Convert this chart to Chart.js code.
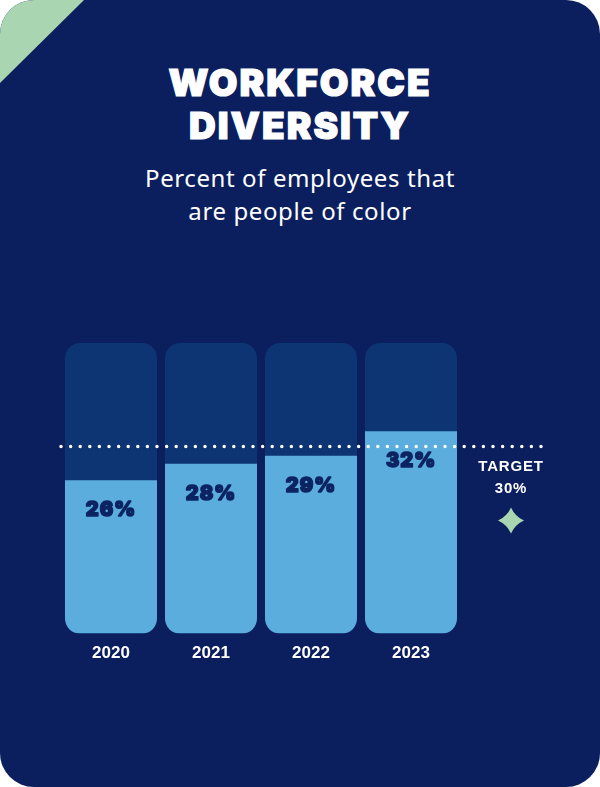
<!DOCTYPE html>
<html>
<head>
<meta charset="utf-8">
<script src="https://cdn.jsdelivr.net/npm/chart.js@4.4.1/dist/chart.umd.min.js"></script>
<style>
  html, body { margin: 0; padding: 0; background: #ffffff; }
  .card {
    position: relative; width: 600px; height: 787px; overflow: hidden;
    background: #0b1f5e; border-radius: 34px;
  }
  .corner {
    position: absolute; left: 0; top: 0; width: 84px; height: 83px;
    background: #a9d6b1; clip-path: polygon(0 0, 100% 0, 0 100%);
  }
  .title {
    position: absolute; left: 0; width: 600px; top: 61px; text-align: center;
    color: #ffffff; font-family: Inter, sans-serif; font-weight: 900;
    font-size: 37px; line-height: 43px; letter-spacing: 2px;
    -webkit-text-stroke: 1.2px #ffffff;
  }
  .subtitle {
    position: absolute; left: 0; width: 600px; top: 161px; text-align: center;
    color: #ffffff; font-family: "Noto Sans", sans-serif; font-size: 24px;
    line-height: 33px; letter-spacing: 0.6px;
  }
  canvas { position: absolute; left: 0; top: 0; }
</style>
</head>
<body>
<div class="card">
  <div class="corner"></div>
  <div class="title">WORKFORCE<br>DIVERSITY</div>
  <div class="subtitle">Percent of employees that<br>are people of color</div>
  <canvas id="diversity" width="600" height="787"></canvas>
</div>
<script>
var years = ['2020', '2021', '2022', '2023'];
var shares = [26, 28, 29, 32];
var target = 30;
var yMin = 7.2;
var yMax = 42.8;

var labels = years.concat(['']);
var track = years.map(function () { return yMax; });

var extras = {
  id: 'extras',
  afterDatasetsDraw: function (chart) {
    var c = chart.ctx;
    var area = chart.chartArea;
    var y = chart.scales.y;
    var x = chart.scales.x;
    var bars = chart.getDatasetMeta(1).data;

    // value labels inside bars
    c.save();
    c.fillStyle = '#0d2462';
    c.strokeStyle = '#0d2462';
    c.lineWidth = 1.5;
    c.lineJoin = 'round';
    c.font = '900 20px Inter';
    c.letterSpacing = '1px';
    c.textAlign = 'center';
    c.textBaseline = 'middle';
    bars.forEach(function (bar, i) {
      c.fillText(shares[i] + '%', bar.x, bar.y + 30);
      c.strokeText(shares[i] + '%', bar.x, bar.y + 30);
    });

    // dotted target line
    var ty = y.getPixelForValue(target) - 1;
    c.strokeStyle = '#ffffff';
    c.lineWidth = 3.5;
    c.lineCap = 'round';
    c.setLineDash([0, 9.6]);
    c.beginPath();
    c.moveTo(area.left, ty);
    c.lineTo(area.right - 18, ty);
    c.stroke();
    c.setLineDash([]);

    // target label
    var tx = x.getPixelForValue(4);
    c.fillStyle = '#ffffff';
    c.font = 'bold 15px "Liberation Sans"';
    c.letterSpacing = '0.8px';
    c.fillText('TARGET', tx, ty + 20);
    c.fillText(target + '%', tx, ty + 42);

    // sparkle
    var sy = ty + 74, r = 13, k = 4;
    c.fillStyle = '#a9d6b1';
    c.beginPath();
    c.moveTo(tx, sy - r);
    c.quadraticCurveTo(tx + k, sy - k, tx + r, sy);
    c.quadraticCurveTo(tx + k, sy + k, tx, sy + r);
    c.quadraticCurveTo(tx - k, sy + k, tx - r, sy);
    c.quadraticCurveTo(tx - k, sy - k, tx, sy - r);
    c.fill();
    c.restore();
  }
};

new Chart(document.getElementById('diversity'), {
  type: 'bar',
  data: {
    labels: labels,
    datasets: [{
      data: track,
      backgroundColor: '#0e3573',
      borderRadius: 15,
      borderSkipped: false,
      base: yMin,
      grouped: false,
      order: 2
    }, {
      data: shares,
      backgroundColor: '#5badde',
      borderRadius: { topLeft: 0, topRight: 0, bottomLeft: 15, bottomRight: 15 },
      borderSkipped: false,
      base: yMin,
      grouped: false,
      order: 1
    }]
  },
  options: {
    responsive: false,
    animation: false,
    layout: { padding: { left: 61, right: 39, top: 343, bottom: 113 } },
    plugins: { legend: { display: false }, tooltip: { enabled: false } },
    datasets: { bar: { barPercentage: 0.92, categoryPercentage: 1 } },
    scales: {
      x: {
        grid: { display: false, drawTicks: false },
        border: { display: false },
        ticks: { color: '#ffffff', padding: 10, font: { family: 'Liberation Sans', weight: 'bold', size: 17 } }
      },
      y: { display: false, min: yMin, max: yMax }
    }
  },
  plugins: [extras]
});
</script>
</body>
</html>
